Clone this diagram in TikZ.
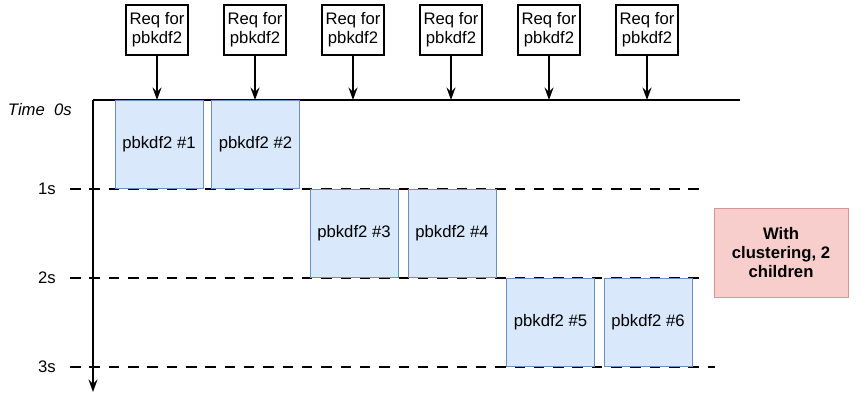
\documentclass[tikz,border=0pt]{standalone}
\usepackage{fontspec}
\setmainfont{Liberation Sans}
\usetikzlibrary{positioning,arrows.meta}
\definecolor{jobfill}{RGB}{218,232,252}
\definecolor{jobline}{RGB}{108,142,191}
\definecolor{notefill}{RGB}{248,206,204}
\definecolor{noteline}{RGB}{184,84,80}
\tikzset{
    req/.style={draw, line width=1pt, fill=white, minimum width=62*0.02cm, minimum height=50*0.02cm, align=center, inner sep=1pt, font=\fontsize{9.5}{11}\selectfont},
    job/.style={draw=jobline, fill=jobfill, minimum width=88*0.02cm, minimum height=88*0.02cm, inner sep=0pt, font=\fontsize{9.5}{11}\selectfont},
    tick/.style={font=\fontsize{9.5}{11}\selectfont, anchor=east},
    axis/.style={line width=1.2pt},
}
\begin{document}
\begin{tikzpicture}[x=0.02cm, y=-0.02cm, >={Stealth[length=7pt, width=5pt]}]

    \useasboundingbox (0,0) rectangle (863,400);

    % time axis
    \coordinate (t0) at (93,100);
    \coordinate (tend) at (93,392);
    \draw[axis, ->] (t0) -- (tend);
    \coordinate (top) at (740,100);
    \draw[axis] (t0) -- (top);

    \node[tick, font=\fontsize{9.5}{11}\selectfont\itshape] (lt0) at (78,110) {Time\ \ 0s};
    \foreach \i/\y/\e in {1/189/705, 2/278/705, 3/367/715} {
        \node[tick] (lt\i) at (62,\y) {\i s};
        \coordinate (ds\i) at (70,\y);
        \coordinate (de\i) at (\e,\y);
        \draw[axis, dash pattern=on 6pt off 5pt] (ds\i) -- (de\i);
    }

    % requests
    \foreach \i/\x in {1/157, 2/255, 3/353, 4/451, 5/549, 6/647} {
        \node[req] (req\i) at (\x,30) {Req for\\pbkdf2};
        \coordinate (hit\i) at (\x,100);
        \draw[axis, ->] (req\i) -- (hit\i);
    }

    % jobs
    \foreach \i/\x/\y in {1/159/144.5, 2/255.5/144.5, 3/354/233.5, 4/452/233.5, 5/550.5/322.5, 6/648/322.5} {
        \node[job] (job\i) at (\x,\y) {pbkdf2 \#\i};
    }

    \node[draw=noteline!60, fill=notefill, minimum width=134*0.02cm, minimum height=89*0.02cm, align=center, font=\fontsize{9.5}{11}\selectfont\bfseries] (note) at (781,252.5) {With\\clustering, 2\\children};

\end{tikzpicture}
\end{document}
